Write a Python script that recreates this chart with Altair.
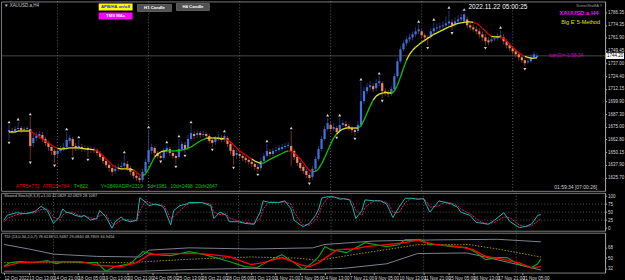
import altair as alt
import pandas as pd

# ---------------- data (XAUUSD.a H4) ----------------
opens = [1670.0,1671.0,1671.0,1672.9,1673.9,1671.9,1672.9,1672.9,1659.3,1664.2,
 1666.1,1667.1,1663.2,1659.3,1655.4,1651.6,1648.6,1651.6,1653.5,1655.4,
 1661.3,1663.2,1656.4,1654.5,1655.4,1653.5,1654.5,1652.5,1653.5,1652.5,
 1649.6,1645.7,1641.8,1638.0,1635.0,1632.1,1634.1,1636.0,1637.0,1638.9,
 1635.0,1631.2,1627.3,1625.3,1623.4,1631.2,1640.9,1651.6,1654.5,1649.6,
 1646.7,1644.8,1651.6,1653.5,1649.6,1646.7,1645.7,1653.5,1657.4,1654.5,
 1663.2,1668.1,1667.1,1669.0,1667.1,1668.1,1666.1,1662.2,1660.3,1664.2,
 1664.2,1663.2,1664.2,1658.4,1652.5,1647.7,1648.6,1646.7,1644.8,1642.8,
 1640.9,1638.9,1636.0,1635.0,1641.8,1646.7,1650.6,1648.6,1651.6,1652.5,
 1653.5,1655.4,1656.4,1656.4,1651.6,1645.7,1639.9,1636.0,1632.1,1628.2,
 1626.3,1634.1,1643.8,1653.5,1663.2,1672.9,1676.8,1672.9,1673.9,1671.0,
 1676.8,1677.8,1675.8,1673.9,1671.9,1671.0,1676.8,1700.1,1709.8,1713.7,
 1714.7,1712.7,1717.6,1717.6,1709.8,1707.9,1706.9,1711.8,1724.4,1738.9,
 1750.6,1756.4,1760.3,1762.2,1765.2,1768.1,1768.1,1764.2,1762.2,1763.2,
 1768.1,1771.0,1771.9,1772.9,1773.9,1775.8,1776.8,1774.9,1777.8,1779.7,
 1777.8,1779.7,1773.9,1771.9,1770.0,1768.1,1765.2,1762.2,1759.3,1758.4,
 1760.3,1761.3,1763.2,1762.2,1758.4,1754.5,1751.6,1748.6,1745.7,1742.8,
 1739.9,1738.0,1738.9,1742.8,1742.8]
closes = [1671.9,1670.0,1672.9,1673.9,1671.9,1672.9,1673.9,1656.4,1664.2,1666.1,
 1668.1,1663.2,1659.3,1655.4,1651.6,1647.7,1651.6,1653.5,1655.4,1662.2,
 1664.2,1656.4,1654.5,1656.4,1653.5,1654.5,1652.5,1653.5,1652.5,1649.6,
 1645.7,1641.8,1638.0,1635.0,1631.2,1634.1,1636.0,1637.0,1639.9,1635.0,
 1631.2,1627.3,1625.3,1623.4,1631.2,1640.9,1652.5,1655.4,1649.6,1646.7,
 1644.8,1651.6,1654.5,1649.6,1646.7,1644.8,1653.5,1658.4,1653.5,1663.2,
 1669.0,1666.1,1669.0,1667.1,1668.1,1666.1,1661.3,1659.3,1664.2,1665.2,
 1662.2,1666.1,1658.4,1651.6,1646.7,1649.6,1646.7,1644.8,1642.8,1640.9,
 1638.9,1636.0,1634.1,1641.8,1646.7,1651.6,1648.6,1651.6,1652.5,1654.5,
 1655.4,1656.4,1657.4,1651.6,1645.7,1639.9,1635.0,1632.1,1628.2,1625.3,
 1634.1,1643.8,1653.5,1663.2,1672.9,1678.7,1672.9,1674.9,1670.0,1676.8,
 1678.7,1675.8,1673.9,1671.9,1670.0,1676.8,1700.1,1709.8,1713.7,1715.6,
 1711.8,1717.6,1719.5,1709.8,1707.9,1706.9,1711.8,1724.4,1738.9,1750.6,
 1756.4,1760.3,1762.2,1765.2,1768.1,1770.0,1764.2,1762.2,1761.3,1768.1,
 1771.0,1771.9,1772.9,1773.9,1775.8,1777.8,1773.9,1777.8,1779.7,1781.7,
 1784.6,1773.9,1771.9,1770.0,1768.1,1765.2,1762.2,1758.4,1757.4,1760.3,
 1761.3,1763.2,1764.2,1758.4,1754.5,1751.6,1748.6,1745.7,1742.8,1739.9,
 1737.0,1738.9,1742.8,1745.7,1744.2]
highs = [1676.8,1673.9,1675.8,1679.7,1675.8,1674.9,1675.8,1684.6,1668.1,1670.0,
 1671.0,1670.0,1665.2,1661.3,1657.4,1653.5,1654.5,1656.4,1659.3,1670.0,
 1667.1,1665.2,1659.3,1662.2,1658.4,1657.4,1656.4,1656.4,1655.4,1654.5,
 1651.6,1647.7,1643.8,1640.9,1637.0,1638.0,1639.9,1640.9,1647.7,1641.8,
 1637.0,1633.1,1630.2,1627.3,1634.1,1643.8,1671.9,1658.4,1656.4,1651.6,
 1649.6,1654.5,1657.4,1655.4,1651.6,1648.6,1663.2,1661.3,1660.3,1667.1,
 1676.8,1671.0,1671.9,1671.0,1671.0,1670.0,1668.1,1664.2,1666.1,1668.1,
 1667.1,1668.1,1666.1,1660.3,1654.5,1652.5,1651.6,1648.6,1646.7,1644.8,
 1642.8,1640.9,1638.9,1644.8,1649.6,1658.4,1653.5,1654.5,1655.4,1657.4,
 1658.4,1659.3,1660.3,1671.0,1653.5,1647.7,1641.8,1638.0,1634.1,1630.2,
 1637.0,1646.7,1656.4,1666.1,1675.8,1683.6,1679.7,1678.7,1675.8,1683.6,
 1681.6,1680.7,1677.8,1675.8,1673.9,1680.7,1718.6,1713.7,1717.6,1719.5,
 1717.6,1721.5,1724.4,1719.5,1712.7,1710.8,1714.7,1727.3,1741.9,1753.5,
 1759.3,1763.2,1766.1,1768.1,1771.9,1774.9,1770.0,1766.1,1764.2,1771.0,
 1776.8,1775.8,1776.8,1777.8,1782.6,1788.5,1779.7,1781.7,1783.6,1785.5,
 1786.5,1782.6,1776.8,1774.9,1772.9,1771.0,1768.1,1765.2,1762.2,1763.2,
 1764.2,1766.1,1769.0,1765.2,1760.3,1756.4,1753.5,1750.6,1747.7,1744.8,
 1741.9,1741.9,1745.7,1748.6,1746.7]
lows = [1662.2,1668.1,1669.0,1670.0,1669.0,1670.0,1671.0,1642.8,1655.4,1661.3,
 1663.2,1660.3,1656.4,1651.6,1647.7,1639.9,1645.7,1649.6,1651.6,1652.5,
 1658.4,1646.7,1651.6,1652.5,1650.6,1650.6,1645.7,1649.6,1649.6,1646.7,
 1642.8,1638.9,1635.0,1631.2,1627.3,1629.2,1631.2,1633.1,1635.0,1632.1,
 1628.2,1624.4,1622.4,1620.5,1621.5,1628.2,1638.9,1648.6,1646.7,1643.8,
 1643.8,1642.8,1648.6,1646.7,1643.8,1638.9,1643.8,1651.6,1649.6,1652.5,
 1661.3,1663.2,1664.2,1664.2,1665.2,1663.2,1658.4,1655.4,1657.4,1661.3,
 1660.3,1660.3,1655.4,1647.7,1638.0,1643.8,1643.8,1641.8,1639.9,1638.0,
 1636.0,1633.1,1631.2,1632.1,1639.9,1644.8,1645.7,1646.7,1649.6,1650.6,
 1651.6,1653.5,1654.5,1637.0,1642.8,1637.0,1632.1,1629.2,1625.3,1622.4,
 1623.4,1632.1,1641.8,1651.6,1661.3,1671.0,1670.0,1671.0,1667.1,1669.0,
 1674.9,1672.9,1671.0,1669.0,1666.1,1669.0,1674.9,1697.2,1706.9,1710.8,
 1708.8,1709.8,1714.7,1703.0,1705.0,1704.0,1705.0,1709.8,1722.4,1737.0,
 1748.6,1753.5,1757.4,1759.3,1762.2,1765.2,1761.3,1758.4,1754.5,1760.3,
 1765.2,1768.1,1769.0,1770.0,1771.0,1772.9,1769.0,1771.9,1774.9,1776.8,
 1775.8,1771.0,1769.0,1767.1,1765.2,1761.3,1758.4,1754.5,1754.5,1756.4,
 1758.4,1759.3,1760.3,1755.4,1751.6,1748.6,1745.7,1742.8,1739.9,1737.0,
 1734.1,1736.0,1737.0,1740.9,1740.9]

# moving average and its colour state per bar (y = flat, r = falling, g = rising)
ma_vals = [1670.0,1670.0,1670.0,1671.0,1671.0,1671.0,1671.0,1671.0,1669.0,1667.1,
 1665.2,1663.2,1661.3,1659.3,1657.4,1655.4,1654.0,1653.5,1653.5,1654.0,
 1654.5,1654.5,1654.5,1654.5,1654.0,1653.5,1653.5,1653.0,1652.5,1651.6,
 1649.6,1646.7,1643.8,1640.9,1638.0,1636.0,1634.6,1634.1,1634.1,1634.1,
 1633.6,1633.1,1631.2,1628.2,1627.3,1629.2,1634.1,1639.9,1645.7,1648.6,
 1650.6,1651.6,1651.6,1651.6,1651.6,1651.6,1652.0,1652.5,1653.0,1654.0,
 1655.4,1657.4,1659.3,1661.3,1662.7,1663.7,1664.2,1664.2,1664.2,1663.7,
 1663.7,1663.2,1662.2,1660.3,1657.4,1654.5,1651.6,1649.6,1647.7,1645.7,
 1643.8,1641.8,1640.4,1639.4,1639.9,1641.8,1643.3,1644.8,1646.2,1647.7,
 1649.1,1650.6,1651.6,1651.1,1649.6,1646.7,1643.8,1639.9,1636.0,1632.6,
 1631.2,1631.6,1634.1,1638.9,1644.8,1651.6,1658.4,1664.2,1668.1,1671.0,
 1672.9,1673.9,1673.9,1673.9,1673.9,1673.9,1675.8,1681.6,1688.4,1695.2,
 1701.1,1705.0,1706.9,1707.9,1708.4,1708.4,1707.9,1709.8,1715.6,1723.4,
 1732.1,1739.9,1745.7,1749.6,1752.5,1755.0,1757.4,1759.3,1761.3,1763.2,
 1765.2,1766.6,1768.1,1769.5,1771.0,1772.4,1773.4,1774.9,1775.8,1776.3,
 1776.8,1777.3,1777.3,1776.8,1775.8,1773.9,1771.0,1768.1,1765.2,1763.2,
 1762.7,1762.7,1762.7,1761.3,1758.4,1755.4,1752.5,1749.6,1747.2,1745.3,
 1743.8,1742.8,1741.9,1741.9,1742.3]
ma_runs = [("y", 8), ("r", 9), ("y", 12), ("r", 8), ("y", 5), ("r", 3), ("g", 4),
           ("y", 4), ("g", 13), ("y", 6), ("r", 9), ("y", 3), ("g", 9), ("r", 8),
           ("g", 8), ("y", 7), ("g", 5), ("y", 6), ("g", 5), ("y", 22), ("r", 6),
           ("y", 3), ("r", 8), ("y", 4)]

fr_up_idx = [0, 3, 7, 19, 23, 38, 46, 52, 56, 60, 71, 85, 93, 105, 109, 116, 122, 135, 140, 145, 150, 162]
fr_up_px = [1679.7, 1682.6, 1687.5, 1672.9, 1665.2, 1650.6, 1674.9, 1660.3, 1666.1, 1679.7, 1671.0,
            1661.3, 1673.9, 1686.5, 1686.5, 1721.5, 1727.3, 1777.8, 1779.7, 1791.4, 1789.4, 1771.9]
fr_dn_idx = [0, 7, 15, 21, 26, 50, 55, 58, 67, 74, 82, 99, 108, 114, 123, 138, 146, 157, 170]
fr_dn_px = [1659.3, 1639.9, 1637.0, 1643.8, 1642.8, 1640.9, 1636.0, 1646.7, 1652.5, 1635.0,
            1628.2, 1619.5, 1664.2, 1663.2, 1700.1, 1751.6, 1766.1, 1751.6, 1731.2]

price_ticks = [1786.35, 1774.35, 1761.90, 1749.45, 1737.00, 1724.40, 1712.15, 1699.90,
               1687.30, 1675.00, 1662.80, 1650.15, 1637.90, 1625.70]

# Slowed stochastic
sto_idx = [0,1,4,7,10,12,14,16,18,19,20,22,23,25,26,28,30,31,33,35,36,38,39,41,43,44,46,47,49,51,
           52,54,55,57,59,60,64,67,68,70,72,73,76,78,81,83,84,86,89,91,93,94,96,97,99,101,102,103,105,107,
           109,110,112,113,114,116,117,120,122,124,125,126,128,130,132,134,136,137,138,141,143,145,147,148,151,
           153,155,157,159,162,164,167,169,171,173,174]
sto_main = [25,40,48,45,52,68,55,15,35,60,50,45,40,35,40,25,30,55,35,0,20,35,25,20,25,95,80,70,75,70,
            60,10,55,70,75,80,80,70,30,50,40,20,20,15,12,50,85,80,80,85,60,25,10,5,15,40,60,94,98,97,
            90,92,88,65,30,55,88,85,85,75,55,33,65,93,93,90,92,70,50,85,80,75,65,50,40,
            18,15,12,25,48,20,2,5,13,40,42.1]
sto_sig = [20,30,42,46,48,58,60,35,25,40,48,50,45,38,38,32,28,40,42,15,12,25,28,25,22,55,85,80,72,72,
           68,30,35,55,72,76,80,75,50,42,45,32,22,18,14,30,60,82,80,82,75,50,20,10,10,25,45,70,95,97,
           93,91,90,80,55,40,65,86,85,80,68,50,48,80,93,92,91,82,65,70,82,78,70,60,45,
           30,17,14,18,35,32,10,4,8,22,28.1]
sto_levels = [75, 50, 25]

# TDI
tdi_g_idx = [0,2,5,10,14,17,20,25,30,33,36,41,45,49,54,60,65,73,78,82,86,90,94,97,100,102,104,106,111,117,
             124,128,130,135,138,141,145,150,153,156,160,163,167,171,173,174]
tdi_green = [35.7,42.1,43.9,42.1,45.6,40.4,43.9,42.1,42.1,26.9,35.1,40.4,61.4,56.1,54.4,61.4,56.1,43.9,35.1,33.4,
             45.6,56.1,42.1,29.9,42.1,52.6,70.1,64.9,59.6,77.1,70.1,73.6,82.4,82.4,73.6,73.6,70.1,68.4,59.6,47.4,
             50.9,50.9,38.6,33.4,40.0,48.8]
tdi_r_idx = [0,5,15,25,31,38,43,47,54,64,73,80,84,90,96,99,102,108,113,118,124,129,134,140,147,152,156,161,167,171,174]
tdi_red = [35.1,42.1,43.9,43.9,36.9,35.1,42.1,56.1,57.9,57.9,52.6,38.6,42.1,50.9,38.6,35.1,42.1,64.9,66.1,70.7,
           73.6,76.6,81.2,73.6,70.7,64.9,53.2,48.6,41.6,32.9,35.0]
tdi_mid_idx = [0,40,60,80,95,102,113,124,134,151,161,172,174]
tdi_mid = [42.0,42.0,48.0,52.0,50.0,46.0,56.0,65.0,73.6,73.6,65.0,54.0,51.9]
tdi_up_idx = [0,8,16,30,44,47,60,80,100,104,120,140,160,174]
tdi_up = [74,66,57,53,52,64,68,66,68,74,80,82,83,78.6]
tdi_lo_idx = [0,44,60,80,100,110,124,134,150,156,167,174]
tdi_lo = [27,27,30,32,30,32,40,58,59,52,38,29.1]
tdi_ticks = [32, 50, 68]

time_idx = [0, 8, 16, 24, 32, 40, 48, 56, 64, 72, 80, 88, 96, 104, 112, 120, 128, 136, 144, 152, 160, 168]
time_lbl = ["12 Oct 2022", "13 Oct 13:00", "14 Oct 21:00", "18 Oct 05:00", "19 Oct 13:00", "20 Oct 21:00",
            "24 Oct 05:00", "25 Oct 13:00", "26 Oct 21:00", "28 Oct 05:00", "31 Oct 13:00", "1 Nov 21:00",
            "3 Nov 05:00", "4 Nov 13:00", "7 Nov 21:00", "9 Nov 05:00", "10 Nov 13:00", "11 Nov 21:00",
            "15 Nov 05:00", "16 Nov 13:00", "17 Nov 21:00", "21 Nov 05:00"]
grid_idx = [16, 46, 76, 106, 136, 166]

# ---------------- tables ----------------
N = len(closes)
idx = list(range(N))
candles = pd.DataFrame({"i": idx, "o": opens, "h": highs, "l": lows, "c": closes})
ma_col = "".join(k * n for k, n in ma_runs)
seg = pd.DataFrame({"i": idx[:-1], "i2": idx[1:], "m": ma_vals[:-1], "m2": ma_vals[1:],
                    "k": list(ma_col[1:])})
fup = pd.DataFrame({"i": fr_up_idx, "p": fr_up_px})
fdn = pd.DataFrame({"i": fr_dn_idx, "p": fr_dn_px})
bid = pd.DataFrame({"p": [closes[-1]]})
grid = pd.DataFrame({"i": grid_idx})
sto_df = pd.DataFrame({"i": sto_idx, "m": sto_main, "s": sto_sig})
lv_sto = pd.DataFrame({"v": sto_levels})
one = pd.DataFrame({"a": [0]})

# ---------------- styling ----------------
W = 606
FONT = "Liberation Sans"
GRAY = "#8c8c8c"
xs = alt.Scale(domain=[-1, 194.8], nice=False, zero=False)
X = alt.X("i:Q", scale=xs, axis=None)


def yaxis(values, fmt):
    return alt.Axis(orient="right", values=values, format=fmt, labelFontSize=4.5,
                    labelColor="#d8d8d8", labelFont=FONT, tickSize=1.5, tickColor="#a0a0a0",
                    domainColor="#a0a0a0", labelPadding=1, grid=False, title=None,
                    labelOverlap=False, labelBound=False, labelFlush=False)


def txt(s, x, y, color, size, weight="normal", align="left"):
    return alt.Chart(one).mark_text(text=s, color=color, fontSize=size, font=FONT,
                                    fontWeight=weight, align=align, baseline="middle").encode(
        x=alt.value(x), y=alt.value(y))


def box(x1, y1, x2, y2, fill, stroke=None):
    kw = dict(color=fill)
    if stroke:
        kw.update(stroke=stroke, strokeWidth=0.5)
    return alt.Chart(one).mark_rect(**kw).encode(
        x=alt.value(x1), x2=alt.value(x2), y=alt.value(y1), y2=alt.value(y2))


# ---------------- main panel ----------------
ys = alt.Scale(domain=[1612.7, 1797.2], nice=False, zero=False)
yax = yaxis(price_ticks, ".2f")

vgrid = alt.Chart(grid).mark_rule(color="#9a9a9a", strokeDash=[1, 2], strokeWidth=0.6).encode(x=X)
bidline = alt.Chart(bid).mark_rule(color="#777777", strokeWidth=0.6).encode(
    y=alt.Y("p:Q", scale=ys, axis=yax))
wick = alt.Chart(candles).transform_calculate(
    col="datum.c >= datum.o ? '#2d4fa8' : '#a04a28'").mark_rule(strokeWidth=0.7).encode(
    x=X, y=alt.Y("l:Q", scale=ys, axis=yax), y2="h:Q", color=alt.Color("col:N", scale=None))
body = alt.Chart(candles).transform_calculate(
    col="datum.c >= datum.o ? '#4373e2' : '#f5875c'").mark_bar(size=2.2).encode(
    x=X, y=alt.Y("o:Q", scale=ys, axis=yax), y2="c:Q", color=alt.Color("col:N", scale=None))
ma = alt.Chart(seg).transform_calculate(
    col="datum.k == 'r' ? '#e00000' : (datum.k == 'g' ? '#10c010' : '#e4e42c')").mark_rule(
    strokeWidth=1.3).encode(x=X, x2="i2:Q", y=alt.Y("m:Q", scale=ys, axis=yax), y2="m2:Q",
                            color=alt.Color("col:N", scale=None))
pu = alt.Chart(fup).mark_point(shape="triangle-up", filled=True, size=9, color="#d4d4d4",
                               opacity=1).encode(x=X, y=alt.Y("p:Q", scale=ys, axis=yax))
pd_ = alt.Chart(fdn).mark_point(shape="triangle-down", filled=True, size=9, color="#d4d4d4",
                                opacity=1).encode(x=X, y=alt.Y("p:Q", scale=ys, axis=yax))
bidbox = alt.Chart(bid).transform_calculate(p1="datum.p + 3", p2="datum.p - 3").mark_rect(
    color="#ffffff").encode(x=alt.value(W + 1), x2=alt.value(W + 19),
                            y=alt.Y("p1:Q", scale=ys, axis=yax), y2="p2:Q")
bidtxt = alt.Chart(bid).mark_text(color="#000000", fontSize=4.5, font=FONT, align="left").encode(
    x=alt.value(W + 2), y=alt.Y("p:Q", scale=ys, axis=yax), text=alt.Text("p:Q", format=".2f"))

main_layers = [vgrid, bidline, wick, body, ma, pu, pd_, bidbox, bidtxt,
               txt("▼ XAUUSD.a,H4", 3, 5, "#c8c8c8", 4.5),
               box(98, 2, 132, 9, "#ffff00"), txt("APB/HA on/off", 115, 5.5, "#1a1aff", 4.3, "bold", "center"),
               box(98, 11, 132, 18, "#ff00ff"), txt("TMS MAs", 115, 14.5, "#ffffff", 4.3, "bold", "center"),
               box(137, 3, 171, 10, "#505050", "#9a9a9a"), txt("H1 Candle", 154, 6.5, "#ffffff", 4.3, "bold", "center"),
               box(176, 2, 209, 9, "#505050", "#9a9a9a"), txt("H4 Candle", 192.5, 5.5, "#ffffff", 4.3, "bold", "center"),
               txt("2022.11.22 05:00:25", 469, 6, "#ffffff", 6.5),
               txt("ScreenShotEA ®", 577, 5, "#a0a0a0", 3.5),
               txt("XAUUSD.a H4", 560, 12, "#ff00ff", 6, "bold"),
               txt("Big E' 5-Method", 562, 21, "#e0e000", 5.5),
               txt("bar(0)=  1:58:34", 550, 54, "#c000c0", 5),
               txt("ATR5=772", 15, 185, "#e00000", 5),
               txt("ATR25=784", 42, 185, "#e00000", 5),
               txt("T=822", 73, 185, "#00c000", 5),
               txt("Y=2849", 100, 185, "#00c000", 5),
               txt("ADR=2319", 118, 185, "#00c000", 5),
               txt("5d=1981", 147, 185, "#00c000", 5),
               txt("10d=2498", 170, 185, "#00c000", 5),
               txt("20d=2647", 195, 185, "#00c000", 5),
               txt("01:59:34 [07:00:26]", 555, 186, "#d0d0d0", 5)]
main = alt.layer(*main_layers).properties(width=W, height=190)

# ---------------- stochastic panel ----------------
ysto = alt.Scale(domain=[-8, 110], nice=False, zero=False)
yax_sto = yaxis([0, 25, 50, 75, 100], "d")
sto_lv = alt.Chart(lv_sto).mark_rule(color=GRAY, strokeDash=[1, 2], strokeWidth=0.6).encode(
    y=alt.Y("v:Q", scale=ysto, axis=yax_sto))
sto_sig_l = alt.Chart(sto_df).mark_line(color="#e0186c", strokeDash=[2, 1], strokeWidth=1).encode(
    x=X, y=alt.Y("s:Q", scale=ysto, axis=yax_sto))
sto_main_l = alt.Chart(sto_df).mark_line(color="#1fb5b0", strokeWidth=1).encode(
    x=X, y=alt.Y("m:Q", scale=ysto, axis=yax_sto))
sto = alt.layer(vgrid, sto_lv, sto_sig_l, sto_main_l,
                txt("Slowed Stoch(8,3,3) =1.00  42.0829 42.0829 28.1087", 3, 3.5, "#c0c0c0", 4)
                ).properties(width=W, height=38)

# ---------------- TDI panel ----------------
ytdi = alt.Scale(domain=[24.6, 94.6], nice=False, zero=False)
yax_tdi = yaxis(tdi_ticks, "d")
lbl_expr = "[" + ",".join("'%s'" % s for s in time_lbl) + "][indexof(" + str(time_idx) + ", datum.value)]"
xax = alt.Axis(values=time_idx, labelExpr=lbl_expr, labelAlign="left", labelBaseline="top",
               labelFontSize=4.5, labelColor="#d8d8d8", labelFont=FONT, tickSize=2,
               tickColor="#a0a0a0", labelPadding=1, domain=False, grid=False, title=None,
               labelOverlap=False, labelBound=False, labelFlush=False)
XB = alt.X("i:Q", scale=xs, axis=xax)


def tdi_line(ix, vals, color, width, dash=None):
    df = pd.DataFrame({"i": ix, "v": vals})
    kw = dict(color=color, strokeWidth=width)
    if dash:
        kw["strokeDash"] = dash
    return alt.Chart(df).mark_line(**kw).encode(x=XB, y=alt.Y("v:Q", scale=ytdi, axis=yax_tdi))


tdi_grid = alt.Chart(grid).mark_rule(color="#9a9a9a", strokeDash=[1, 2], strokeWidth=0.6).encode(x=XB)
tdi = alt.layer(tdi_grid,
                tdi_line(tdi_up_idx, tdi_up, "#8a8f9a", 0.9),
                tdi_line(tdi_lo_idx, tdi_lo, "#8a8f9a", 0.9),
                tdi_line(tdi_mid_idx, tdi_mid, "#c8b400", 0.8, [1.5, 1.5]),
                tdi_line(tdi_g_idx, tdi_green, "#16a016", 1.1),
                tdi_line(tdi_r_idx, tdi_red, "#ff0000", 1.4),
                txt("TDI (13,0,34,2,0,7) 78.6138 51.9487 29.0840 48.7809 34.9454", 3, 4, "#c0c0c0", 4)
                ).properties(width=W, height=40)

chart = alt.vconcat(main, sto, tdi, spacing=0).properties(
    background="#000000", padding=0).configure_view(
    stroke="#7a7a7a", strokeWidth=1).configure_concat(spacing=0)

chart.save("out.html", embed_options={"renderer": "svg", "actions": False})
